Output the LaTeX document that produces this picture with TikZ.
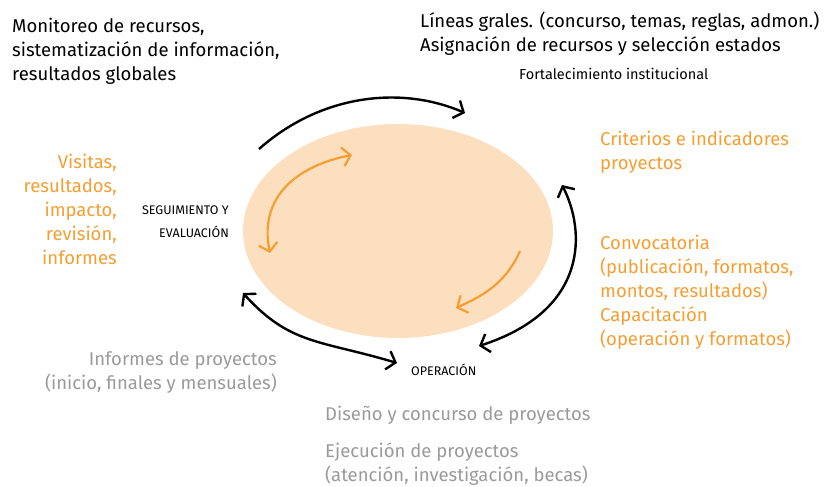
\documentclass[tikz,border=0pt]{standalone}
\usepackage{fontspec}
\setmainfont{Fira Sans}
\usetikzlibrary{arrows.meta}
\definecolor{peach}{HTML}{FCDFBF}
\definecolor{orng}{HTML}{F59E32}
\definecolor{gtxt}{HTML}{9A9A9A}
\tikzset{
  big/.style={inner sep=0pt, anchor=base west, align=left, font=\fontsize{18.5}{24}\selectfont},
  bigr/.style={inner sep=0pt, anchor=base east, align=right, font=\fontsize{18.5}{24}\selectfont},
  small/.style={inner sep=0pt, anchor=base west, font=\fontsize{14.5}{16}\selectfont},
  caps/.style={inner sep=0pt, align=right, font=\fontsize{12.5}{23}\selectfont},
  tip/.tip={Straight Barb[length=8pt,width=19pt]},
  blk/.style={draw=black, line width=2.4pt, -tip},
  blkd/.style={draw=black, line width=2.4pt, tip-tip},
  org/.style={draw=orng, line width=2.2pt, -tip},
  orgd/.style={draw=orng, line width=2.2pt, tip-tip},
}
\begin{document}
\begin{tikzpicture}[x=1pt,y=-1pt]
\useasboundingbox (0,0) rectangle (835,487);
\fill[peach] (398,231) ellipse [x radius=155, y radius=107];

% texts (anchor = baseline of the last line)
\node[big] (mon) at (12,81) {Monitoreo de recursos,\\sistematización de información,\\resultados globales};
\node[big] (lin) at (420,52) {Líneas grales. (concurso, temas, reglas, admon.)\\Asignación de recursos y selección estados};
\node[small] (fort) at (519,79) {Fortalecimiento institucional};
\node[big, text=orng] (crit) at (600,169) {Criterios e indicadores\\proyectos};
\node[big, text=orng] (conv) at (600,345) {Convocatoria\\(publicación, formatos,\\montos, resultados)\\Capacitación\\(operación y formatos)};
\node[bigr, text=orng] (vis) at (117,264) {Visitas,\\resultados,\\impacto,\\revisión,\\informes};
\node[caps, anchor=base east] (seg) at (229,237) {SEGUIMIENTO Y\\EVALUACIÓN};
\node[caps, anchor=base west] (ope) at (411,375) {OPERACIÓN};
\node[bigr, text=gtxt] (inf) at (277,389) {Informes de proyectos\\(inicio, finales y mensuales)};
\node[big, text=gtxt] (dis) at (325,420) {Diseño y concurso de proyectos};
\node[big, text=gtxt] (eje) at (325,481) {Ejecución de proyectos\\(atención, investigación, becas)};

% arrows
\coordinate (a1s) at (259,149); \coordinate (a1e) at (465,113);
\draw[blk] (a1s) .. controls (320,95) and (400,85) .. (a1e);
\coordinate (a2s) at (562,185); \coordinate (a2e) at (479,346);
\draw[blkd] (a2s) .. controls (585,230) and (590,310) .. (a2e);
\coordinate (a3s) at (243,293); \coordinate (a3e) at (397,363);
\draw[blkd] (a3s) .. controls (290,345) and (320,340) .. (a3e);
\coordinate (o1s) at (352,155); \coordinate (o1e) at (270,253);
\draw[orgd] (o1s) .. controls (300,165) and (258,195) .. (o1e);
\coordinate (o2s) at (520,251); \coordinate (o2e) at (456,308);
\draw[org] (o2s) .. controls (505,285) and (480,297) .. (o2e);
\end{tikzpicture}
\end{document}
